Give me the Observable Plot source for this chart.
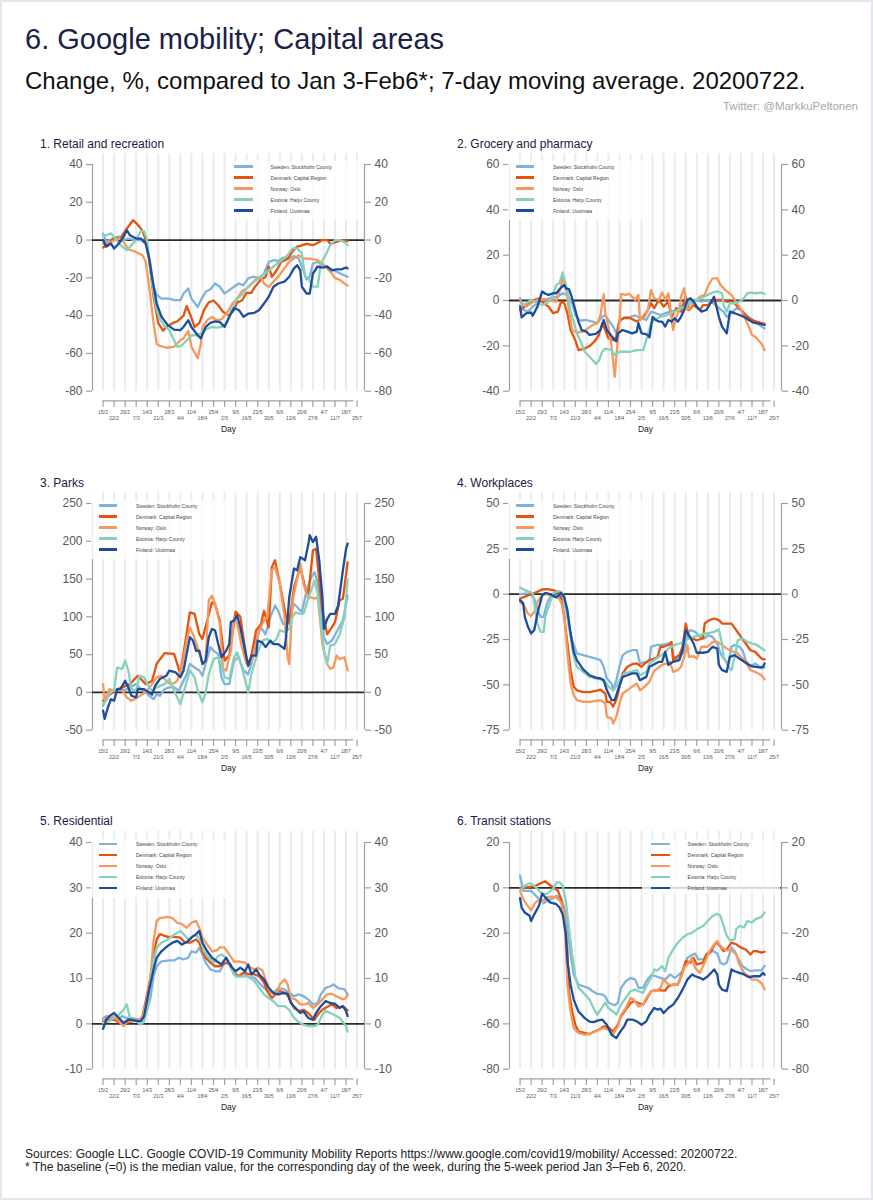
<!DOCTYPE html>
<html><head><meta charset="utf-8">
<script src="https://cdn.jsdelivr.net/npm/d3@7"></script>
<script src="https://cdn.jsdelivr.net/npm/@observablehq/plot@0.6"></script>
<style>
html,body{margin:0;padding:0;background:#fff;}
#page{position:relative;width:873px;height:1200px;overflow:hidden;font-family:"Liberation Sans",Arial,Helvetica,sans-serif;background:#fff;}
.abs{position:absolute;white-space:nowrap;}
#frame{position:absolute;left:0;top:0;width:873px;height:1200px;box-sizing:border-box;border:2px solid #e1e8ec;pointer-events:none;}
</style></head><body><div id="page"></div>
<script>
// ---- categories, tick labels ----
const countries = ["Sweden: Stockholm County","Denmark: Capital Region","Norway: Oslo","Estonia: Harju County","Finland: Uusimaa"];
const palette = ["#7fb3dc","#e6530f","#f6995c","#86d1bb","#1c4e9d"];
const tickLabels = ["15/2","22/2","29/2","7/3","14/3","21/3","28/3","4/4","11/4","18/4","25/4","2/5","9/5","16/5","23/5","30/5","6/6","13/6","20/6","27/6","4/7","11/7","18/7","25/7"];
// series values: [days since 15 Feb 2020, % change]
const retailSweden=[[0,3.4],[2,-1],[6,0.8],[10,2],[13,0],[16,0.8],[20,0],[24,0],[27,-1.8],[30,-12.4],[32,-24.8],[34,-29],[37,-31],[42,-31],[45,-31.8],[49,-31.8],[51,-28.3],[54,-25.6],[56,-31],[60,-35.4],[62,-31.8],[65,-27.4],[68,-26],[71,-23],[74,-24.7],[77,-28.3],[80,-26.5],[83,-24.7],[86,-23],[89,-23.9],[92,-20.3],[95,-19.4],[99,-20.3],[102,-17.7],[105,-11.6],[108,-10.6],[111,-11],[114,-9.3],[118,-9.8],[121,-8.5],[124,-9.8],[127,-16],[129,-20.8],[131,-19.4],[133,-12.4],[136,-11.6],[139,-13.3],[142,-14.1],[145,-15.5],[148,-16.8],[151,-18],[155,-19.4]];
const retailDenmark=[[0,-4],[3,-2],[7,1],[11,1],[15,6],[19,10.5],[21,9],[25,5],[27,0],[29,-9],[32,-30],[35,-44],[38,-48],[40,-46],[44,-44],[47,-43],[51,-40],[53,-35],[55,-39],[58,-46],[61,-44],[64,-37],[67,-33],[70,-32],[73,-34.5],[76,-38],[80,-40],[83,-37],[85,-33],[88,-32],[91,-28],[94,-28],[96,-25],[100,-21],[103,-19.5],[105,-14],[107,-19.5],[110,-16],[113,-11.5],[117,-10],[120,-6],[123,-3.5],[126,-2.8],[129,-2],[133,-2.7],[137,-1],[139,0],[142,0],[144,-2],[148,-1],[151,0],[155,-0.5]];
const retailNorway=[[0,-2],[5,-1],[10,1],[13,-1],[16,-5],[20,-6],[25,-8],[27,-11.5],[29,-23],[32,-44],[34,-55],[36,-56],[40,-57],[45,-56.5],[49,-53],[51,-52],[54,-48],[56,-56.5],[60,-62.6],[62,-55],[63,-46],[66,-42.4],[69,-40.7],[72,-42.4],[75,-42],[79,-38],[82,-33.6],[85,-31],[88,-27],[91,-25.6],[94,-23],[98,-20],[100,-19.5],[102,-23],[105,-24.8],[108,-22],[111,-19.5],[114,-16],[118,-11.5],[121,-9.8],[124,-8],[127,-9.8],[131,-9.8],[136,-10.6],[139,-12.4],[142,-15],[145,-17.7],[147,-20],[150,-21],[153,-23],[155,-24]];
const retailEstonia=[[0,2],[5,3.5],[7,1.7],[11,-2.7],[15,-5.3],[17,-3.6],[20,-0.9],[24,4.7],[26,4.7],[28,0],[30,-16],[32,-28],[34,-37],[36,-42],[39,-45.5],[42,-47.7],[45,-53],[47,-56.5],[50,-55.7],[53,-53],[56,-50.4],[60,-50.4],[63,-48.6],[66,-46.9],[69,-46],[72,-46.3],[75,-46],[79,-43],[82,-35.4],[85,-31],[88,-29],[91,-25.6],[96,-22],[100,-19.5],[104,-16.8],[108,-14],[112,-11.5],[117,-8],[120,-4.4],[123,-4.4],[126,-7],[128,-19.4],[130,-20],[133,-24.7],[136,-24.7],[138,-12.4],[141,-8],[144,-2.7],[147,0],[150,0],[153,-1],[155,-2.7]];
const retailFinland=[[0,0],[2,-3.5],[5,-1.8],[7,-4.5],[10,-1.8],[13,1.7],[15,5.2],[17,2.6],[21,0.8],[24,0.8],[27,-1.8],[29,-8.8],[31,-19.5],[34,-33.6],[37,-40.6],[41,-45],[45,-47.4],[49,-47.7],[51,-46],[54,-42.4],[56,-46],[60,-50.4],[62,-52],[65,-46],[68,-43.8],[71,-43],[74,-43.4],[77,-46],[80,-40.6],[83,-36],[86,-37],[89,-40.6],[92,-39],[96,-38.5],[99,-37],[102,-33.6],[105,-30],[108,-24.7],[111,-23],[115,-22],[118,-19.4],[121,-15],[123,-13.3],[125,-16],[126,-24.7],[129,-28.3],[131,-28.3],[133,-17.7],[136,-14],[139,-14.6],[142,-14],[145,-16],[148,-15.5],[151,-15.5],[154,-14.5],[155,-15]];

const grocSweden=[[0,1],[2,-4],[5,-4.9],[8,-2.7],[11,-1.2],[15,0.3],[19,1],[24,1.7],[27,3.2],[30,2.5],[33,-1.2],[35,-6.4],[38,-8.9],[42,-8.6],[46,-9.3],[49,-10],[52,-7.2],[54,-6.4],[56,-8.6],[59,-11.5],[61,-14.5],[63,-9.3],[66,-7.4],[70,-7.2],[73,-6.6],[77,-7.8],[80,-8.6],[83,-4.9],[86,-5.6],[89,-6.4],[92,-5.6],[96,-4.9],[99,-4.2],[102,-2.7],[105,-1.2],[108,0],[111,0.3],[115,-0.5],[118,0.3],[121,-0.5],[124,-2],[127,-3.9],[129,-4.9],[131,-7.2],[134,-5.6],[137,-3.4],[140,-4.2],[143,-6.4],[146,-7.8],[149,-9.3],[153,-11.5],[155,-12.3]];
const grocDenmark=[[0,-4.2],[3,-2.7],[6,-1.2],[9,0.3],[12,1],[15,-1.2],[18,-2.7],[21,-5.6],[24,-4.9],[26,-0.5],[28,-1.2],[30,-5.6],[32,-13],[35,-17.5],[37,-21.9],[41,-21.2],[44,-20.1],[47,-18.2],[50,-15.2],[52,-10],[54,-13],[56,-16.6],[59,-17.5],[61,-16],[63,-8.6],[66,-7.8],[70,-7.8],[74,-9.3],[78,-7.2],[81,-4.2],[83,-1.2],[85,-3.4],[88,0.3],[91,-2.7],[94,-0.5],[96,-7.2],[99,-3.4],[102,-4.9],[105,1.7],[107,-4.2],[110,-2],[114,-4.2],[116,-2],[119,-2],[122,-0.5],[125,0.3],[128,0.3],[131,-0.5],[135,-0.5],[138,-2.7],[141,-4.9],[144,-7.2],[147,-8.6],[150,-9.3],[155,-10.3]];
const grocNorway=[[0,-0.5],[4,-2.7],[7,-1.2],[11,0.3],[15,0.6],[19,0],[23,-0.5],[26,6.2],[27,9.8],[29,6.2],[31,-4.2],[33,-13],[36,-14.2],[40,-13.7],[43,-12.3],[46,-10.8],[49,-10],[51,-6.4],[53,2.9],[54,-5.6],[56,-11.5],[58,-20.4],[60,-33.7],[61,-24.8],[63,-10],[64,2.9],[67,2.5],[69,2.9],[71,1.7],[73,0.3],[75,2.5],[76,-8.6],[79,-7.2],[81,-4.2],[83,4.7],[85,1],[88,0.3],[90,3.5],[92,0.3],[94,3.2],[97,-13],[99,-7.2],[101,-4.2],[102,1.7],[104,5.4],[106,-4.2],[108,-2.7],[110,-1.2],[114,1.7],[117,2.5],[119,6.2],[122,9.8],[125,9.8],[127,6.9],[130,4.7],[134,2.5],[136,0.3],[139,-2.7],[142,-7.2],[145,-11.5],[147,-15.2],[149,-16],[153,-19],[155,-21.9]];
const grocEstonia=[[0,-2],[4,-1.2],[7,0.3],[11,-1.2],[14,-2],[17,-1.2],[20,1],[23,6.9],[25,7.7],[27,12.4],[28,9.8],[30,4],[32,-4.9],[34,-9.3],[36,-14.6],[39,-19],[41,-22.6],[44,-24.8],[47,-27],[48,-28],[50,-26.6],[52,-22.6],[54,-21.2],[58,-21.9],[60,-24],[63,-22.6],[66,-22.6],[70,-22.6],[74,-21.9],[78,-21.9],[80,-17.5],[83,-10],[85,-8.6],[89,-7.2],[93,-6.4],[98,-4.9],[102,-3.4],[106,-2],[110,-0.5],[115,1],[119,2.5],[122,3.5],[125,4],[128,3.2],[129,-2],[131,-4.9],[133,-1.2],[136,-1.2],[139,-0.5],[142,1],[144,3.2],[147,3.5],[149,3.2],[153,3.5],[155,2.9]];
const grocFinland=[[0,-2.7],[1,-7.4],[4,-5.6],[7,-5.3],[8,-6.7],[11,-2.7],[14,4],[16,3],[18,2.5],[21,3.2],[23,3.2],[25,5],[28,6.9],[29,5.4],[31,5],[33,1],[35,-4.2],[37,-9.3],[39,-13],[42,-13.7],[44,-15.2],[48,-14.7],[51,-13],[53,-8.6],[55,-13],[59,-16.6],[61,-18],[62,-14.5],[65,-13],[68,-13.7],[71,-14.5],[74,-13.7],[75,-10],[77,-14.5],[79,-14.7],[81,-15.2],[82,-16.2],[84,-7.2],[86,-8.6],[88,-9.3],[90,-9.3],[92,-11.5],[94,-8.6],[96,-9.3],[98,-7.8],[100,-9.3],[102,-7.2],[104,-4.2],[106,0.3],[108,1],[110,-0.5],[112,-2.7],[115,-4.9],[118,-4.2],[120,-2],[123,1.7],[126,-7.2],[128,-11.5],[131,-14.5],[133,-4.9],[136,-5.6],[139,-6.4],[142,-7.2],[145,-8.6],[148,-9.8],[152,-10.3],[155,-10.8]];

const parksSweden=[[0,-17.7],[2,-6.6],[5,0],[8,2.2],[11,4.4],[14,3],[17,6.6],[21,11],[24,4.4],[27,0],[30,-5.8],[32,-8.8],[34,-2.2],[36,-4.4],[39,4.4],[42,6.6],[45,6.6],[48,2.2],[51,15.5],[53,24],[55,37.6],[58,33],[61,29],[63,22],[65,37.6],[68,60],[70,55],[73,51],[75,20],[77,11],[80,11],[83,42],[86,46.5],[89,29],[92,24],[94,37.6],[98,77],[100,86],[103,77],[106,99.6],[109,115],[111,108],[114,91],[116,88.5],[118,99.6],[121,117],[123,113],[126,106],[129,135],[132,152.6],[134,159],[136,146],[138,108],[140,73],[142,64],[145,68.6],[148,80],[152,95],[155,128]];
const parksDenmark=[[0,-11],[7,2],[17,11],[22,22],[27,11],[31,15],[34,38],[39,52],[45,51],[49,24],[55,106],[58,104],[61,77],[63,71],[69,119],[71,117],[74,95],[77,42],[80,49],[84,107],[87,100],[91,44],[93,38],[97,82],[100,90],[102,108],[105,86],[107,166],[109,175],[112,144],[116,100],[118,91],[121,139],[125,166],[128,139],[130,126],[133,188],[135,190],[139,108],[142,77],[145,86],[147,93],[150,122],[152,124],[155,172]];
const parksNorway=[[0,11],[1,-11],[4,4.4],[7,2.2],[11,6.6],[15,-6.6],[18,-11],[22,-6.6],[25,-2.2],[28,2.2],[31,11],[34,20],[37,22],[41,13],[44,11],[47,15.5],[50,33],[53,68.6],[55,86],[57,77],[60,60],[63,37.6],[65,42],[67,122],[69,128],[71,117],[74,91],[76,31],[78,29],[81,55],[83,99.6],[85,91],[88,60],[91,37.6],[94,40],[97,64],[99,82],[102,95],[104,99.6],[107,161.5],[109,166],[112,144],[115,99.6],[117,46.5],[118,37.6],[120,117],[121,130.5],[125,170],[127,144],[130,124],[132,126],[134,124],[136,126],[137,108],[139,64],[142,37.6],[144,31],[146,33],[148,48.7],[150,44],[153,46.5],[155,29]];
const parksEstonia=[[0,-15.5],[2,-11],[4,-2.2],[7,4.4],[9,33],[12,31],[14,42],[16,29],[18,4.4],[21,2.2],[23,22],[26,20],[28,11],[31,2.2],[34,6.6],[39,11],[42,17.7],[45,2.2],[49,-15.5],[52,6.6],[55,29],[58,20],[60,2.2],[63,-13],[65,0],[67,24],[70,44],[73,46.5],[75,37.6],[77,20],[80,17.7],[83,46.5],[85,53],[88,33],[92,0],[94,24],[98,53],[101,68.6],[104,71],[107,64],[110,71],[112,82],[115,80],[118,84],[120,99.6],[122,106],[125,104],[127,104],[130,124],[134,148],[136,130.5],[138,95],[140,55],[142,37.6],[144,62],[147,64],[150,77],[153,99.6],[155,150]];
const parksFinland=[[0,-24],[1,-35],[3,-20],[5,-9],[7,-11],[9,4.4],[11,4.4],[14,15.5],[16,6.6],[18,-4.4],[21,-6.6],[22,4.4],[26,4.4],[29,0],[31,-3],[33,8.8],[36,17.7],[40,22],[42,28.8],[46,26.5],[49,20],[51,28.8],[53,51],[55,73],[57,68.6],[59,55],[61,55],[63,37.6],[65,42],[67,73],[69,84],[71,82],[73,64],[75,46.5],[78,55],[80,64],[81,93],[83,95],[85,102],[87,86],[90,55],[92,35],[94,48.7],[97,48.7],[98,68.6],[101,66],[103,60],[106,68.6],[108,64],[111,64],[115,57.5],[116,73],[118,126],[121,164],[123,161.5],[125,179],[128,175],[130,195],[131,208],[133,199],[135,206],[137,175],[139,126],[140,84],[142,97],[144,104],[147,104],[149,115],[152,161.5],[154,190],[155,197]];

const workSweden=[[0,0],[4,0.4],[7,-0.6],[9,-2.4],[11,-8.8],[13,-12.5],[15,-12.5],[17,-5.1],[19,-1.5],[23,-0.6],[26,-0.6],[28,-4.2],[30,-12.5],[33,-25.4],[36,-32.7],[40,-33.6],[44,-34.6],[48,-35.5],[51,-36.4],[53,-40],[55,-46.5],[58,-49.3],[59,-53],[61,-47.4],[63,-40],[65,-33.6],[68,-31.8],[71,-30.9],[74,-30.9],[76,-38.2],[80,-37.3],[82,-36.4],[83,-29],[87,-28],[90,-28],[94,-27.2],[96,-29],[98,-36.4],[101,-34.6],[104,-31.8],[106,-21.7],[108,-19.8],[111,-20.8],[114,-23.5],[117,-24.4],[119,-22.6],[122,-23.5],[125,-27.2],[127,-32.7],[129,-35.5],[132,-38.2],[134,-29],[136,-28],[139,-29],[141,-30.9],[143,-36.4],[146,-40],[149,-38.2],[153,-41],[155,-40.4]];
const workDenmark=[[0,-2.4],[4,-1.1],[7,0],[11,1.3],[14,2.6],[17,2.8],[21,2.2],[24,1.3],[26,-2.4],[28,-12.5],[30,-27.2],[32,-42],[34,-51],[36,-53],[40,-54],[44,-54],[48,-53.3],[51,-52.6],[54,-54.8],[55,-59.4],[57,-59.4],[59,-62],[61,-58.4],[63,-51],[65,-43.7],[68,-40],[71,-38.6],[74,-38.2],[77,-40],[79,-38.2],[82,-36.4],[85,-35.5],[87,-35],[89,-29],[91,-29],[94,-28],[96,-26.3],[97,-36.4],[99,-34.6],[101,-33.6],[103,-29],[105,-16.2],[107,-23.5],[109,-24.4],[112,-25.4],[116,-24.4],[117,-16.2],[120,-14.3],[123,-13.4],[126,-14.3],[128,-16.2],[131,-16.2],[134,-16.2],[137,-19.8],[140,-23.5],[143,-27.2],[146,-30.9],[149,-31.8],[153,-35.5],[155,-36]];
const workNorway=[[0,-4.2],[3,-7],[5,-10.7],[7,-12],[9,-9.7],[11,-4.2],[14,-0.6],[17,0],[21,-1.1],[24,-1.8],[26,-4.2],[28,-10.7],[30,-32.7],[32,-49],[34,-55.7],[36,-58.4],[40,-59.4],[44,-59.4],[48,-58.8],[51,-58.4],[54,-60.3],[55,-67.6],[58,-68.5],[59,-71.3],[61,-67.6],[63,-60.3],[65,-54.8],[68,-53],[71,-51],[74,-49.3],[76,-53],[79,-51],[82,-48.3],[85,-42.3],[87,-41],[90,-39],[93,-38.2],[95,-37.3],[97,-42.8],[100,-41.9],[102,-40],[104,-34.6],[106,-28],[107,-34.6],[110,-34.2],[112,-35.5],[115,-29],[119,-29],[122,-26.3],[125,-26.3],[128,-28],[131,-30],[135,-31.8],[137,-31.8],[140,-34.6],[143,-37.3],[146,-41.9],[149,-42.8],[153,-44.7],[155,-46.9]];
const workEstonia=[[0,3.7],[3,2.2],[6,1.3],[8,0.4],[9,-5.1],[11,-16.2],[13,-20.8],[15,-20.8],[16,-12.5],[18,-7],[21,0.4],[24,1.8],[26,1.3],[28,-1.5],[30,-12.5],[32,-23.5],[34,-34.6],[36,-40],[40,-42.8],[44,-45.6],[48,-46.5],[51,-47],[54,-48.3],[56,-51],[59,-53],[61,-51],[63,-47.4],[66,-43.7],[70,-42.8],[74,-41.9],[76,-44.7],[80,-42.8],[82,-38.2],[85,-36.4],[88,-34.6],[91,-32.7],[94,-30],[98,-28],[101,-27.2],[104,-26.3],[107,-24.4],[110,-23.5],[114,-22.6],[117,-21.7],[120,-21.3],[123,-20.8],[126,-19.5],[128,-27.2],[129,-34.6],[132,-40],[134,-41.9],[136,-34.6],[138,-25.4],[141,-24.4],[144,-26.3],[147,-27.2],[150,-28],[155,-30.9]];
const workFinland=[[0,-3.3],[2,-5.1],[3,-12.5],[5,-18],[7,-21.7],[9,-19.8],[11,-10.7],[14,-0.6],[16,0.7],[19,0],[23,-1.8],[26,0.7],[28,-1.5],[30,-8.8],[32,-21.7],[34,-31.8],[36,-36.4],[40,-41.5],[44,-44.7],[48,-46],[51,-46.5],[53,-47.4],[55,-53],[58,-58.4],[60,-58.4],[62,-53],[65,-45.6],[68,-44.7],[71,-43.7],[74,-43.7],[76,-47.4],[80,-45.6],[82,-40],[86,-38.2],[88,-37.3],[90,-37.3],[92,-31.8],[94,-39],[97,-37.3],[101,-36.4],[103,-30.9],[105,-19.8],[107,-22.6],[110,-27.2],[112,-32.3],[116,-32.3],[119,-31.8],[122,-29],[125,-30],[126,-39],[128,-41.9],[131,-42.8],[133,-34.6],[136,-33.6],[139,-35.5],[142,-37.3],[145,-39],[148,-40],[152,-40.4],[154,-40],[155,-38.2]];

const resSweden=[[0,1.3],[2,1.7],[6,1.4],[9,0.9],[12,1.7],[15,1.3],[19,1.2],[24,0.9],[27,2],[30,5.7],[32,10.5],[34,12.7],[37,13.8],[42,14],[45,14],[48,14.6],[51,14.2],[54,14.6],[56,16],[59,15.7],[61,16.8],[63,15.3],[65,13.5],[68,12],[71,11.6],[74,11.6],[77,13.5],[80,13.2],[83,10.9],[86,10.5],[90,10.7],[93,10.3],[96,10.2],[99,9],[102,7.9],[105,7.2],[108,6.8],[111,7.9],[115,7.6],[118,6.8],[121,6.1],[124,6.5],[127,6.1],[130,5.4],[133,4.3],[136,4.6],[138,6.5],[141,7.9],[144,8.3],[146,8.7],[149,7.9],[153,7.6],[155,6.5]];
const resDenmark=[[0,0.6],[4,0.9],[7,0.9],[11,0.2],[15,0.2],[19,0.6],[23,0.9],[25,1.7],[27,5],[30,10.2],[32,15.3],[34,18.6],[36,19.8],[41,19.2],[45,19.2],[49,19],[52,17.9],[55,17.9],[59,18.6],[61,17.9],[63,16],[65,14.6],[68,13.5],[71,12.7],[74,12.7],[78,13.5],[81,13.1],[83,11.3],[86,10.5],[89,11.3],[92,11],[96,10.9],[99,10.5],[102,9.1],[104,7.2],[107,5.7],[110,6.8],[112,7.2],[116,6.8],[119,5],[121,3.5],[124,2.8],[127,3.1],[130,2.4],[134,0.9],[136,2],[139,3.1],[142,3.7],[145,4.3],[148,3.5],[152,3.9],[155,3]];
const resNorway=[[0,0.9],[4,1.3],[7,1.7],[10,0.6],[13,-0.5],[15,0.6],[19,0.6],[23,0.9],[25,1.7],[27,4.3],[30,10.2],[32,18.3],[34,22.7],[36,23.3],[41,23.6],[44,23.3],[47,22.3],[50,22],[53,21.2],[56,22.3],[59,22.7],[61,21.2],[63,19],[66,17.5],[69,16],[72,16.2],[74,16.9],[77,16.8],[80,15.3],[83,13.7],[86,13.8],[90,13.5],[92,12.7],[96,12],[98,12.4],[101,11.8],[104,8.7],[107,6.8],[110,6.5],[112,8.7],[115,9.8],[117,8.7],[119,5.7],[122,5.4],[125,4.3],[128,4.3],[130,4.6],[133,3.5],[136,4.3],[139,5.4],[142,6.5],[145,6.6],[148,6.1],[152,5.4],[154,5.7],[155,6.5]];
const resEstonia=[[0,0.2],[4,0.6],[7,1.3],[10,2],[13,3.1],[15,4.3],[17,1.3],[21,0.6],[24,-0.2],[26,0.6],[28,3.5],[30,9.4],[32,13.8],[34,16.8],[37,17.9],[41,18.6],[44,19.4],[47,20.1],[49,20.5],[52,19.4],[54,18.6],[57,19.4],[59,19.6],[62,18.3],[64,16],[67,14.6],[70,13.5],[73,15],[75,15.3],[78,14.6],[81,12.4],[84,10.5],[87,10.4],[90,10.5],[93,10.2],[96,9.4],[99,7.9],[102,6.5],[105,5.7],[108,5],[111,3.9],[115,3.9],[118,3.1],[121,1.3],[124,0.4],[127,-0.2],[130,-0.5],[134,-0.5],[136,-0.2],[139,2],[141,2.9],[144,2.4],[147,1.9],[150,1.3],[154,-0.5],[155,-1.7]];
const resFinland=[[0,-1.1],[2,0.9],[4,1.7],[7,2.4],[10,1.3],[13,0.2],[16,0.9],[18,0.9],[22,0.6],[24,0.6],[26,1.7],[29,7.2],[32,12],[34,14.6],[37,16],[41,17.2],[44,17.9],[47,18.3],[50,17.5],[52,17.9],[54,18.3],[56,19],[59,19.8],[61,20.5],[63,17.9],[66,16],[69,14.6],[72,13.8],[75,13.1],[78,14.6],[81,12.7],[84,11.6],[87,12.4],[90,11.6],[92,13.1],[94,10.9],[97,12],[99,10.9],[102,9.8],[105,7.9],[108,6.8],[111,6.5],[114,6.8],[117,6.6],[119,4.6],[122,3.5],[125,2.4],[127,2.8],[130,1.3],[133,0.9],[135,2.4],[138,3.9],[141,5],[144,4.6],[147,4.4],[150,3.5],[152,3.9],[154,2.8],[155,1.7]];

const transSweden=[[0,5.4],[2,-1.3],[4,-1.3],[7,-1.3],[10,-3.5],[12,-5],[15,-6.9],[17,-5.7],[21,-4.6],[23,-3.5],[26,-5],[28,-8.6],[30,-17.5],[32,-29.4],[34,-38.2],[37,-42.7],[40,-43.4],[43,-44.1],[46,-45.6],[49,-46.8],[52,-47],[54,-47.8],[56,-50.7],[60,-51.8],[62,-50.7],[64,-44.1],[67,-41.2],[70,-39.7],[73,-40.5],[75,-44.1],[78,-44.1],[80,-41.2],[83,-38.5],[86,-39],[89,-39.7],[92,-40.5],[95,-38.2],[98,-39.7],[101,-38.2],[103,-36.8],[106,-30.9],[108,-30],[111,-29],[113,-31.6],[116,-31.6],[119,-29.4],[122,-27.8],[125,-29],[127,-33],[129,-33.8],[131,-33],[134,-26.4],[136,-27.9],[138,-30.9],[141,-34.6],[144,-36],[146,-36.7],[149,-36.4],[153,-36.4],[155,-34.5]];
const transDenmark=[[0,-0.1],[4,0.2],[7,0.5],[10,0.9],[13,2],[16,2.9],[18,1.7],[21,0.2],[24,-1.3],[26,-5],[28,-13.1],[30,-27.9],[31,-45.6],[33,-54.5],[35,-60.4],[37,-63.4],[41,-64],[44,-64.5],[47,-63.4],[50,-62.6],[53,-61.1],[56,-61.6],[59,-63.4],[62,-60.4],[64,-56.7],[67,-53.7],[70,-50.8],[72,-50],[75,-50.8],[78,-51.5],[80,-49.3],[83,-45.6],[86,-45.2],[89,-45.2],[92,-45.3],[94,-43.4],[97,-42.7],[100,-42.7],[102,-39],[105,-32.3],[108,-33],[110,-30.9],[112,-33.8],[116,-33],[118,-29.4],[121,-27.9],[124,-24.2],[126,-24.9],[129,-27.9],[131,-27.2],[134,-24.2],[137,-24.9],[140,-26.4],[143,-27.2],[146,-29.4],[148,-27.9],[150,-27.9],[153,-28.6],[155,-28.2]];
const transNorway=[[0,-1.3],[2,-5],[4,-7.2],[7,-9.9],[9,-7.2],[12,-5],[15,-5.5],[17,-4.2],[20,-3.9],[23,-4.2],[26,-6.5],[28,-11.7],[29,-25],[30,-42.7],[32,-54.5],[34,-61.9],[37,-64],[41,-64.8],[44,-64.5],[47,-63.6],[50,-62.6],[53,-61.9],[56,-62.6],[59,-64.5],[62,-61.1],[64,-56],[67,-53],[70,-48.6],[72,-49.3],[75,-52.3],[78,-51.5],[80,-48.6],[83,-45.6],[86,-45.6],[89,-44.1],[91,-40.5],[94,-42.7],[97,-42.7],[100,-42.7],[102,-39.7],[104,-35.3],[107,-33],[109,-30.9],[111,-35.3],[114,-37.5],[117,-33],[120,-27.9],[123,-24.9],[125,-23.5],[128,-26.4],[131,-27.6],[134,-27.6],[137,-29.4],[139,-33.8],[142,-37.5],[145,-39],[147,-40.5],[150,-40.5],[153,-42],[155,-44.9]];
const transEstonia=[[0,-1.3],[3,1],[6,2],[8,1.4],[11,-0.5],[14,-2.7],[17,-2.7],[21,-0.5],[23,2.4],[25,2.4],[27,1],[29,-5.7],[31,-17.5],[33,-29.4],[35,-39],[37,-44],[41,-47],[44,-49.3],[47,-53.7],[49,-56],[51,-53.7],[54,-50.7],[56,-53],[60,-55.2],[61,-56],[64,-51.5],[67,-48.6],[70,-45.6],[73,-44.8],[75,-45.6],[78,-46.3],[80,-43.4],[83,-39.7],[85,-36],[87,-36.5],[90,-34.5],[92,-36.8],[94,-30.9],[97,-27.2],[100,-24.2],[103,-22],[106,-20.5],[109,-19.8],[112,-18.3],[116,-16.8],[119,-14.6],[122,-12.4],[125,-11.4],[127,-12.4],[129,-16.8],[131,-21.2],[133,-23.2],[136,-22.7],[137,-18.3],[139,-16.8],[142,-17.5],[144,-14.6],[147,-15.3],[149,-13.9],[153,-12.8],[155,-10.9]];
const transFinland=[[0,-4.5],[1,-8.7],[3,-10.9],[6,-12.3],[7,-14.6],[9,-11.7],[12,-7.9],[14,-2.5],[16,-4.2],[19,-6.4],[23,-7.2],[25,-8.7],[27,-11.7],[29,-20.5],[30,-32.3],[32,-42.7],[34,-49.3],[37,-54.5],[41,-57.5],[44,-59],[47,-59.2],[49,-58.6],[52,-58.1],[55,-60.4],[58,-64.8],[61,-66.3],[63,-64],[66,-61.1],[68,-58.1],[71,-58.1],[74,-58.9],[77,-60.4],[80,-58.9],[82,-56],[85,-53],[87,-53.7],[89,-53.3],[91,-55.2],[94,-53],[97,-51.5],[100,-48.6],[103,-44.9],[106,-40.5],[109,-38.2],[111,-39],[114,-39.7],[116,-40.5],[119,-39],[122,-36.8],[123,-36],[125,-38.2],[126,-42.7],[128,-44.9],[131,-45.6],[134,-36],[136,-36.8],[139,-37.5],[142,-38.2],[145,-39.4],[148,-39],[152,-39],[154,-37.5],[155,-38.3]];

const panelTitles = ["1. Retail and recreation","2. Grocery and pharmacy","3. Parks","4. Workplaces","5. Residential","6. Transit stations"];
const yTickSets = [[-80,-60,-40,-20,0,20,40],[-40,-20,0,20,40,60],[-50,0,50,100,150,200,250],[-75,-50,-25,0,25,50],[-10,0,10,20,30,40],[-80,-60,-40,-20,0,20]];
const panelSeries = [
  [retailSweden,retailDenmark,retailNorway,retailEstonia,retailFinland],
  [grocSweden,grocDenmark,grocNorway,grocEstonia,grocFinland],
  [parksSweden,parksDenmark,parksNorway,parksEstonia,parksFinland],
  [workSweden,workDenmark,workNorway,workEstonia,workFinland],
  [resSweden,resDenmark,resNorway,resEstonia,resFinland],
  [transSweden,transDenmark,transNorway,transEstonia,transFinland]
];
const legendSide = ["right","left","left","left","left","right"];

// ---- layout ----
const FONT = '"Liberation Sans", Arial, Helvetica, sans-serif';
const page = document.getElementById("page");
const W = 436, ML = 92, MR = 72, MT = 40, PH = 226.7, MB = 75;
const colLeft = [0, 417];
const rowTop = [164.3, 503.3, 842];
const NAVY = "#1b2046";
const AX = "#a0a0a0";

function addText(txt, o) {
  const d = document.createElement("div");
  d.className = "abs";
  d.textContent = txt;
  d.style.fontSize = o.size + "px";
  d.style.lineHeight = o.size + "px";
  d.style.top = (o.baseline - 0.847 * o.size) + "px";
  if (o.left != null) d.style.left = o.left + "px"; else d.style.right = o.right + "px";
  d.style.color = o.color;
  page.appendChild(d);
  return d;
}

addText("6. Google mobility; Capital areas", {left: 25, baseline: 50, size: 29, color: NAVY});
addText("Change, %, compared to Jan 3-Feb6*; 7-day moving average. 20200722.", {left: 25, baseline: 89, size: 24, color: "#111"});
addText("Twitter: @MarkkuPeltonen", {right: 15, baseline: 111, size: 11.5, color: "#a8a8a8"});
addText("Sources: Google LLC. Google COVID-19 Community Mobility Reports https://www.google.com/covid19/mobility/ Accessed: 20200722.", {left: 25, baseline: 1158, size: 12, color: "#222"});
addText("* The baseline (=0) is the median value, for the corresponding day of the week, during the 5-week period Jan 3\u2013Feb 6, 2020.", {left: 25, baseline: 1171, size: 12, color: "#222"});

const base = Date.UTC(2020, 1, 15);
const toDate = d => new Date(base + d * 864e5);
const tickDates = tickLabels.map(s => { const [dd, mm] = s.split("/").map(Number); return new Date(Date.UTC(2020, mm - 1, dd)); });
const ticks = tickDates.map((t, i) => ({t, label: tickLabels[i], row: i % 2}));
const xStart = toDate(-6.7), xEnd = toDate(165.7);

panelSeries.forEach((series, k) => {
  const col = k % 2, row = Math.floor(k / 2);
  const yT = yTickSets[k];
  const lo = yT[0], hi = yT[yT.length - 1];
  const upp = (hi - lo) / PH;
  const data = series.flatMap((s, i) => s.map(([d, v]) => ({date: toDate(d), value: v, country: countries[i]})));
  const axisOpts = {label: null, tickSize: 6, tickPadding: 4, stroke: AX, strokeWidth: 1.2, fill: "#5a5a5a", fontSize: 12, tickFormat: d => String(d)};
  const chart = Plot.plot({
    width: W, height: MT + PH + MB,
    marginTop: MT, marginBottom: MB, marginLeft: ML, marginRight: MR,
    style: {fontFamily: FONT, fontSize: "12px", background: "none", overflow: "visible"},
    x: {type: "utc", domain: [xStart, xEnd], axis: null, label: null},
    y: {domain: [lo, hi], axis: null, label: null},
    color: {domain: countries, range: palette},
    marks: [
      Plot.ruleX(tickDates, {x: d => d, y1: lo, y2: hi + 11 * upp, stroke: "#ebebeb", strokeWidth: 2}),
      Plot.ruleX([xStart, xEnd], {x: d => d, y1: lo, y2: hi, stroke: AX, strokeWidth: 1.2}),
      Plot.ruleY([0], {stroke: "#2a2a2a", strokeWidth: 1.8}),
      Plot.line(data, {x: "date", y: "value", z: "country", stroke: "country", strokeWidth: 2.3, strokeLinejoin: "round", strokeLinecap: "round"}),
      Plot.axisY(yT, {anchor: "left", ...axisOpts}),
      Plot.axisY(yT, {anchor: "right", ...axisOpts}),
      Plot.ruleY([lo - 9.7 * upp], {x1: toDate(0), x2: toDate(159), stroke: AX, strokeWidth: 1.2}),
      Plot.ruleX(tickDates, {x: d => d, y1: lo - 9.7 * upp, y2: lo - 16.3 * upp, stroke: AX, strokeWidth: 1.2}),
      Plot.text(ticks.filter(d => d.row === 0), {x: "t", text: "label", frameAnchor: "bottom", dy: 22.7, fontSize: 5, fill: "#555"}),
      Plot.text(ticks.filter(d => d.row === 1), {x: "t", text: "label", frameAnchor: "bottom", dy: 29, fontSize: 5, fill: "#555"}),
      Plot.text(["Day"], {text: d => d, frameAnchor: "bottom", dy: 40.7, fontSize: 8.5, fill: "#222"})
    ]
  });
  const wrap = document.createElement("div");
  wrap.className = "abs";
  wrap.style.left = colLeft[col] + "px";
  wrap.style.top = (rowTop[row] - MT) + "px";
  wrap.appendChild(chart);
  page.appendChild(wrap);

  addText(panelTitles[k], {left: colLeft[col] + 40, baseline: rowTop[row] - 16.5, size: 12, color: NAVY});

  // legend (inside plot region)
  const fx = colLeft[col] + ML, fy = rowTop[row];
  const right = legendSide[k] === "right";
  const box = document.createElement("div");
  box.className = "abs";
  const bl = right ? (k === 5 ? 133.3 : 134.7) : -1.5;
  const br = right ? 271 : 137;
  const bb = k === 5 ? 52 : 56;
  Object.assign(box.style, {left: (fx + bl) + "px", top: (fy - 3) + "px", width: (br - bl) + "px", height: (bb + 3) + "px", background: "rgba(255,255,255,0.8)"});
  page.appendChild(box);
  const lineL = right ? 142.3 : 7.2, textL = right ? 178.6 : 44;
  countries.forEach((c, i) => {
    const cy = fy + 2.2 + 11 * i;
    const ln = document.createElement("div");
    ln.className = "abs";
    Object.assign(ln.style, {left: (fx + lineL) + "px", top: (cy - 1.25) + "px", width: "18.3px", height: "2.5px", background: palette[i]});
    page.appendChild(ln);
    const t = document.createElement("div");
    t.className = "abs";
    t.textContent = c;
    Object.assign(t.style, {left: (fx + textL) + "px", top: (cy - 3) + "px", fontSize: "5px", lineHeight: "6px", color: "#444"});
    page.appendChild(t);
  });
});

const fr = document.createElement("div");
fr.id = "frame";
page.appendChild(fr);
</script></body></html>
